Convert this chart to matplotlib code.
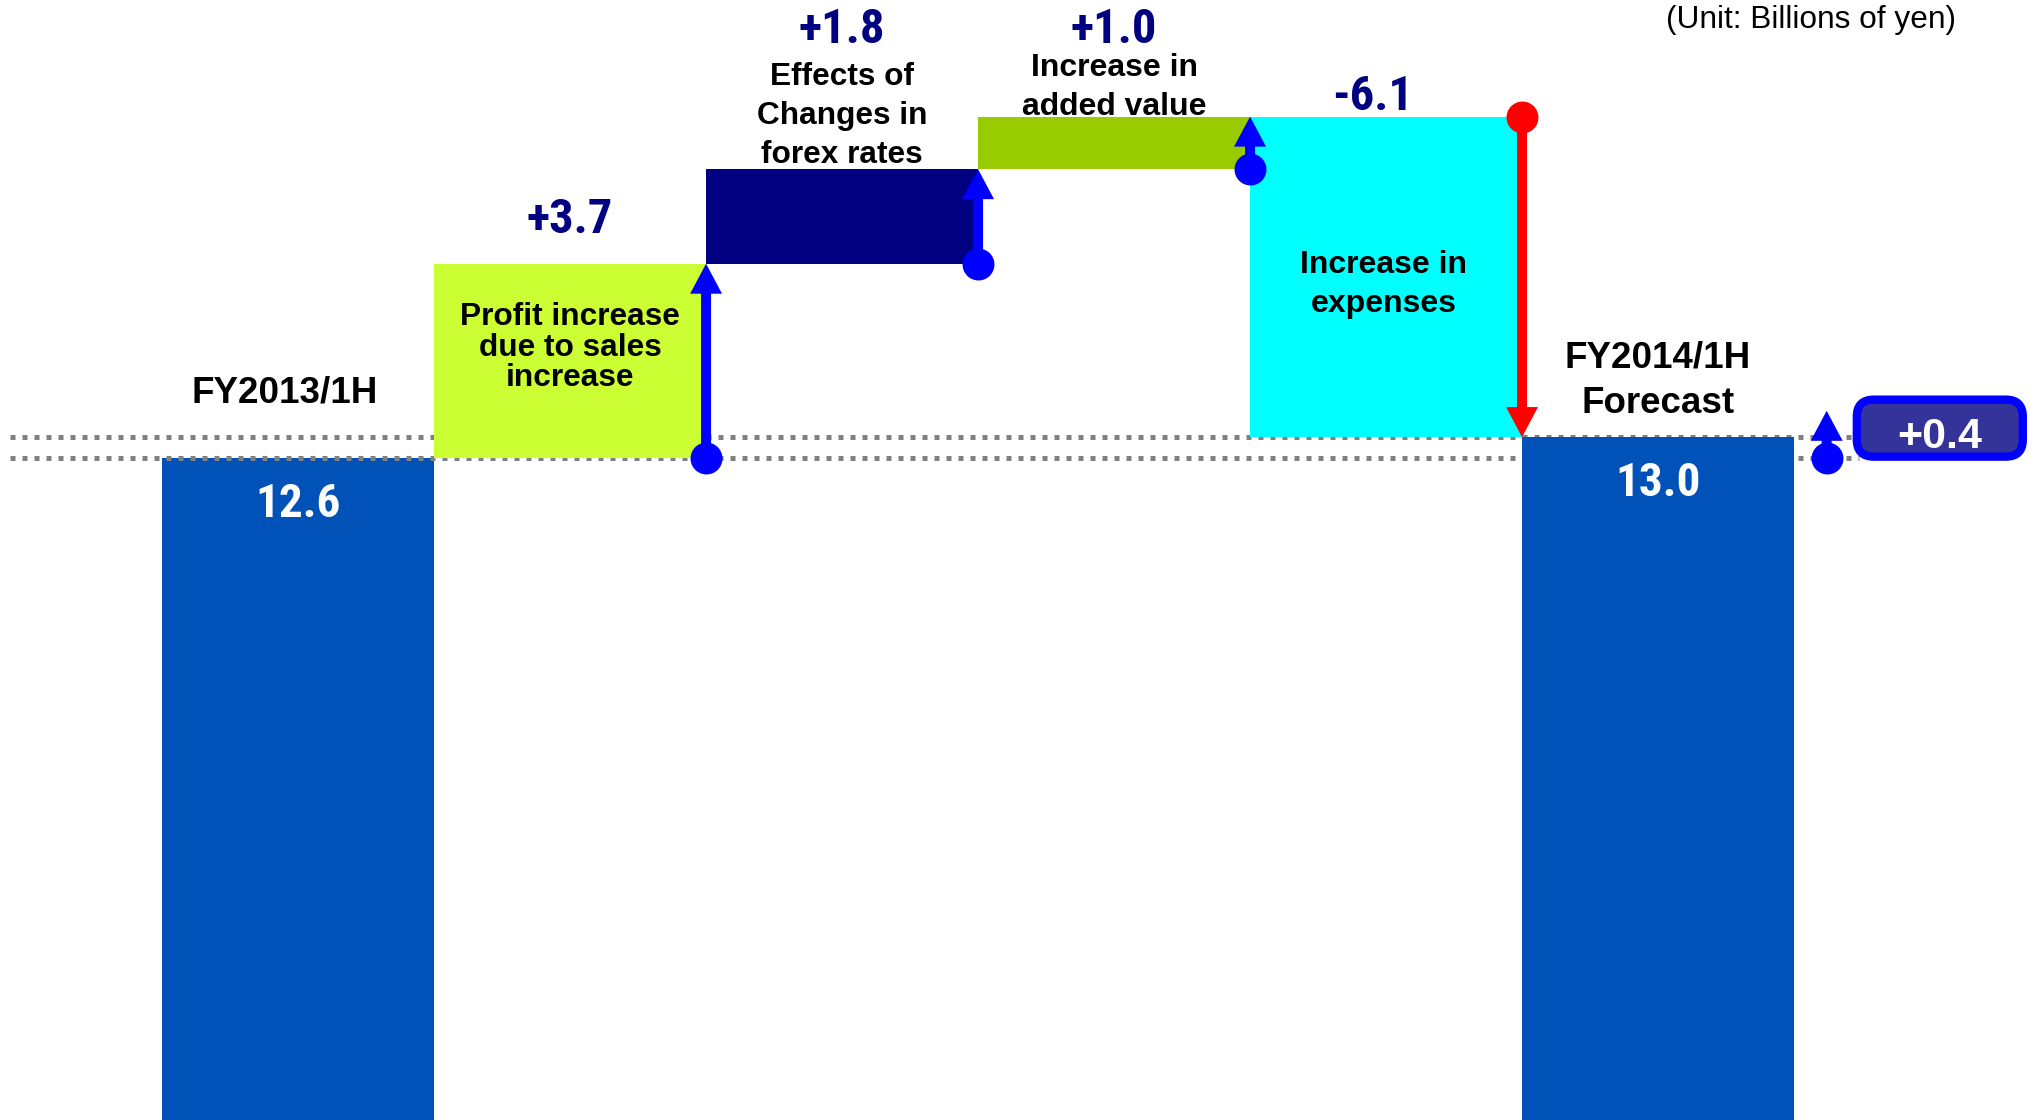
import matplotlib
matplotlib.use("Agg")
import matplotlib.pyplot as plt
from matplotlib import font_manager as fm
from matplotlib.patches import FancyBboxPatch
from matplotlib.transforms import ScaledTranslation

# ---------------- data ----------------
categories = ["FY2013/1H",
              "Profit increase\ndue to sales\nincrease",
              "Effects of\nChanges in\nforex rates",
              "Increase in\nadded value",
              "Increase in\nexpenses",
              "FY2014/1H\nForecast"]
start_value = 12.6
changes = [3.7, 1.8, 1.0, -6.1]
end_value = 13.0
change_labels = ["+3.7", "+1.8", "+1.0", "-6.1"]
total_labels = ["12.6", "13.0"]
net_change = 0.4
net_label = "+0.4"
unit_text = "(Unit: Billions of yen)"

bar_colors = ["#0052B8", "#CCFF33", "#000080", "#99CC00", "#00FFFF", "#0052B8"]

# ---------------- fonts ----------------
names = {f.name for f in fm.fontManager.ttflist}
BOLD = "Liberation Sans" if "Liberation Sans" in names else "DejaVu Sans"
NARROW = None
for cand in ["Liberation Sans Narrow", "Roboto Condensed", "Open Sans Condensed"]:
    if cand in names:
        NARROW = cand
        break
narrow_kw = dict(family=NARROW) if NARROW else dict(family=BOLD, stretch="condensed")

# ---------------- figure ----------------
W, H, DPI = 2035, 1120, 100
fig = plt.figure(figsize=(W / DPI, H / DPI), dpi=DPI)
ax = fig.add_axes([0, 0, 1, 1])
ax.set_xlim(-1.096, 6.386)
ax.set_ylim(0, 21.32)
ax.axis("off")

# waterfall geometry from data
levels = [start_value]
for c in changes:
    levels.append(round(levels[-1] + c, 2))
bottoms = [0] + [min(levels[i], levels[i + 1]) for i in range(len(changes))] + [0]
heights = [start_value] + [abs(c) for c in changes] + [end_value]
xs = list(range(len(categories)))

bars = ax.bar(xs, heights, bottom=bottoms, width=1.0, color=bar_colors, linewidth=0, zorder=2)
bars[0].set_zorder(1)

# dotted reference lines
ax.hlines([start_value, end_value], -1.06, 5.74, colors="#808080",
          linewidth=3.6, linestyles=(0, (1.0, 1.4)), zorder=1.5)

# arrows
MIN_ARROW = 0.9
def draw_arrow(x, y0, y1, color, tail=7.2):
    ax.annotate("", xy=(x, y1), xytext=(x, y0),
                arrowprops=dict(arrowstyle=f"simple,head_length=21.6,head_width=23,tail_width={tail}",
                                color=color, lw=0, shrinkA=0, shrinkB=0, mutation_scale=1),
                zorder=4)
    ax.plot([x], [y0], "o", ms=23, color=color, mec="none", zorder=4)

for i, c in enumerate(changes):
    col = "#0000FF" if c > 0 else "#FF0000"
    draw_arrow(i + 1.5, levels[i], levels[i + 1], col)

# net change marker (drawn with a minimum visible length, as in the original)
draw_arrow(5.62, start_value, start_value + max(net_change, MIN_ARROW), "#0000FF")

# category labels
cat_pos = [(-0.05, 13.83), (1.0, 14.70), (2.0, 19.11), (3.0, 19.66), (3.99, 15.90), (5.0, 14.07)]
cat_size = [26.5, 22.8, 22.8, 23, 23, 26.5]
cat_ls = [1.2, 1.03, 1.4, 1.4, 1.37, 1.4]
for lab, (px, py), fs, ls in zip(categories, cat_pos, cat_size, cat_ls):
    ax.text(px, py, lab, ha="center", va="center", fontsize=fs, fontweight="bold",
            family=BOLD, color="black", linespacing=ls, zorder=5)

# change value labels
chg_pos = [(1.0, 16.88), (2.0, 20.50), (3.0, 20.50), (3.95, 19.23)]
for lab, (px, py) in zip(change_labels, chg_pos):
    ax.text(px, py, lab, ha="center", va="baseline", fontsize=35, fontweight="bold",
            color="#000080", zorder=5, **narrow_kw)

# totals inside bars
tot_pos = [(0.0, 11.48), (5.0, 11.87)]
for lab, (px, py) in zip(total_labels, tot_pos):
    ax.text(px, py, lab, ha="center", va="baseline", fontsize=34, fontweight="bold",
            color="white", zorder=5, **narrow_kw)

# net change box
bx, by = 6.036, 13.17
box = FancyBboxPatch((-0.83, -0.285), 1.66, 0.57,
                     boxstyle="round,pad=0,rounding_size=0.17",
                     facecolor="#333399", edgecolor="#0000FF", linewidth=6,
                     transform=fig.dpi_scale_trans + ScaledTranslation(bx, by, ax.transData),
                     zorder=6)
ax.add_patch(box)
ax.text(bx, 12.79, net_label, ha="center", va="baseline", fontsize=31, fontweight="bold",
        family=BOLD, color="white", zorder=7)

# unit note
fig.text(1956 / W, 1 - 20 / H, unit_text, ha="right", va="center", fontsize=22.8,
         family=BOLD, color="black")

fig.savefig("out.png", dpi=DPI)
